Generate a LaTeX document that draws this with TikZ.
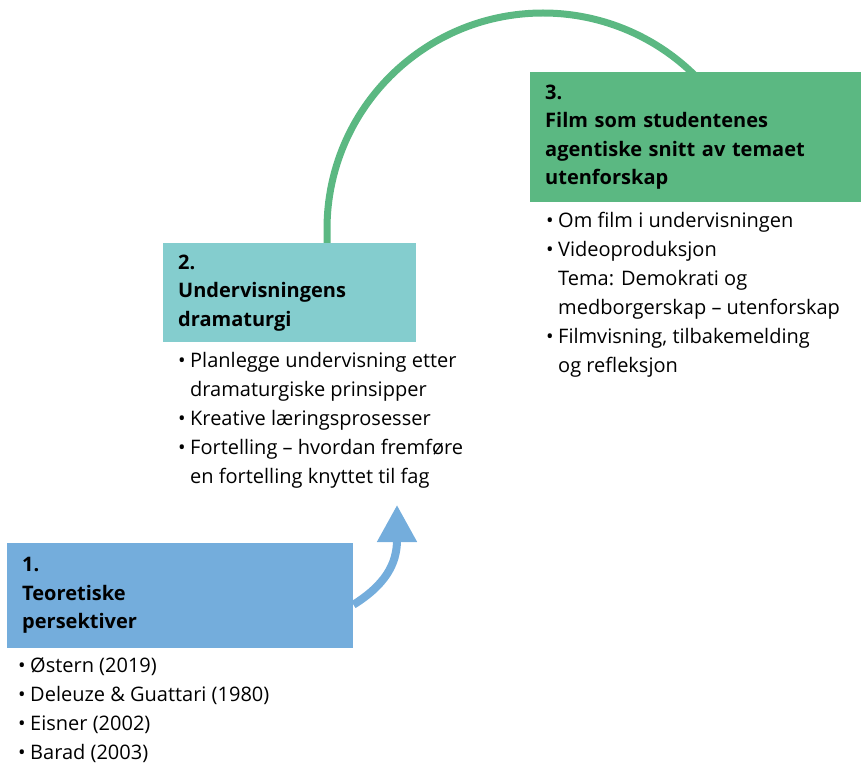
\documentclass[tikz,border=0pt]{standalone}
\usepackage{fontspec}
\setmainfont{Open Sans}
\usepackage{tikz}
\usetikzlibrary{calc, arrows.meta, positioning}
\definecolor{myblue}{RGB}{116, 173, 220}
\definecolor{myteal}{RGB}{132, 205, 206}
\definecolor{mygreen}{RGB}{91, 184, 130}
\tikzset{>=latex}
\tikzset{box/.style = {fill = #1, anchor = north west, inner xsep = 15pt, inner ysep = 0pt, align = left, font = \fontsize{20}{28.5}\selectfont\bfseries},
  list/.style = {inner sep = 0pt, align = left, font = \fontsize{20}{29}\selectfont}}
\newcommand{\itm}[1]{\makebox[12pt][l]{\textbullet}#1}
\newcommand{\cnt}[1]{\hspace*{12pt}#1}

\begin{document}
\begin{tikzpicture}[x = 1pt, y = 1pt]
\useasboundingbox (0,0) rectangle (861,764);
% the green arc from 2 to 3
\coordinate (arcstart) at (327,521);
\draw[mygreen, line width = 7pt] (arcstart) -- ++(0,14) arc[start angle = 180, end angle = 43, radius = 216] coordinate (arcend);
\node[box = myblue, text width = 316pt, minimum height = 105pt] (teori) at (7,221) {1.\\Teoretiske\\persektiver};
\node[box = myteal, text width = 223pt, minimum height = 99pt] (drama) at (163,521) {2.\\Undervisningens\\dramaturgi};
\node[box = mygreen, text width = 301pt, minimum height = 130pt] (film) at (530,692) {3.\\Film som studentenes\\agentiske snitt av temaet\\utenforskap};
\node[list, below right = 9pt and 11pt of teori.south west] (teorilist) {\itm{Østern (2019)}\\\itm{Deleuze \& Guattari (1980)}\\\itm{Eisner (2002)}\\\itm{Barad (2003)}};
\node[list, below right = 10pt and 15pt of drama.south west] (dramalist) {\itm{Planlegge undervisning etter}\\\cnt{dramaturgiske prinsipper}\\\itm{Kreative læringsprosesser}\\\itm{Fortelling – hvordan fremføre}\\\cnt{en fortelling knyttet til fag}};
\node[list, below right = 10pt and 16pt of film.south west] (filmlist) {\itm{Om film i undervisningen}\\\itm{Videoproduksjon}\\\cnt{Tema: Demokrati og}\\\cnt{medborgerskap – utenforskap}\\\itm{Filmvisning, tilbakemelding}\\\cnt{og refleksjon}};
% the blue arrow from 1 towards 2
\coordinate (arrowtip) at (397,259);
\draw[myblue, line width = 8pt, -{Triangle[width = 38pt, length = 37pt]}] ($(teori.east)+(0,-9)$) .. controls (385,179) and (397,200) .. (arrowtip);
\end{tikzpicture}
\end{document}
